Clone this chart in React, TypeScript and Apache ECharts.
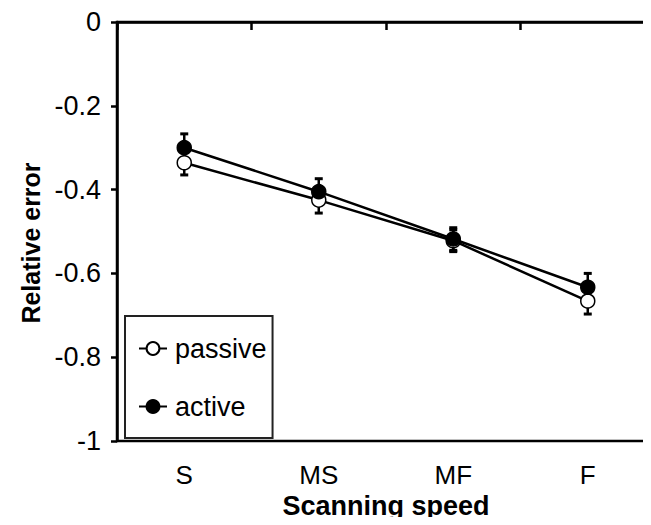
import React, { useEffect, useRef } from "react";
import * as echarts from "echarts";

const categories = ["S", "MS", "MF", "F"];
const passive = [-0.336, -0.425, -0.522, -0.666];
const active = [-0.3, -0.405, -0.518, -0.633];
const passiveErr = [0.029, 0.031, 0.026, 0.031];
const activeErr = [0.033, 0.031, 0.027, 0.033];

const FONT = "'Liberation Sans', Arial, sans-serif";

function errorSeries(name: string, vals: number[], errs: number[]) {
  const data = vals.map((v, i) => [i, v - errs[i], v + errs[i]]);
  return {
    type: "custom",
    name: name + "-err",
    silent: true,
    z: 1,
    data,
    renderItem: (params: any, api: any) => {
      const x = api.value(0);
      const lo = api.coord([x, api.value(1)]);
      const hi = api.coord([x, api.value(2)]);
      const hw = 4;
      const style = { stroke: "#000", lineWidth: 2.5 };
      return {
        type: "group",
        children: [
          { type: "line", shape: { x1: lo[0], y1: lo[1], x2: hi[0], y2: hi[1] }, style },
          { type: "line", shape: { x1: lo[0] - hw, y1: lo[1], x2: lo[0] + hw, y2: lo[1] }, style: { stroke: "#000", lineWidth: 3 } },
          { type: "line", shape: { x1: hi[0] - hw, y1: hi[1], x2: hi[0] + hw, y2: hi[1] }, style: { stroke: "#000", lineWidth: 3 } },
        ],
      };
    },
  };
}

export default function App() {
  const ref = useRef<HTMLDivElement>(null);
  useEffect(() => {
    if (!ref.current) return;
    const chart = echarts.init(ref.current, undefined, { renderer: "svg" });
    chart.setOption({
      animation: false,
      backgroundColor: "#fff",
      textStyle: { fontFamily: FONT },
      grid: {
        left: 117,
        top: 22,
        width: 538,
        height: 419,
        show: true,
        borderColor: "#000",
        borderWidth: 2.5,
        containLabel: false,
        outerBoundsMode: "none",
      },
      legend: {
        orient: "vertical",
        left: 125,
        top: 316,
        padding: [19, 6, 18, 13],
        itemGap: 31,
        itemWidth: 28,
        itemHeight: 16,
        borderColor: "#222",
        borderWidth: 2,
        textStyle: { fontSize: 27, color: "#000", fontFamily: FONT, padding: [0, 0, 0, 3] },
        data: ["passive", "active"],
      },
      xAxis: {
        type: "category",
        data: categories,
        boundaryGap: true,
        name: "Scanning speed",
        nameLocation: "middle",
        nameGap: 51,
        nameTextStyle: { fontSize: 27, fontWeight: "bold", color: "#000", fontFamily: FONT },
        axisLine: { lineStyle: { color: "#000", width: 2.5 } },
        axisTick: { show: true, length: 8, inside: false, alignWithLabel: false, lineStyle: { color: "#000", width: 2.5 } },
        axisLabel: { fontSize: 26, color: "#000", margin: 21, fontFamily: FONT },
        splitLine: { show: false },
      },
      yAxis: {
        type: "value",
        min: -1,
        max: 0,
        interval: 0.2,
        axisLine: { show: true, lineStyle: { color: "#000", width: 2.5 } },
        axisTick: { show: true, length: 6, inside: false, lineStyle: { color: "#000", width: 2.5 } },
        axisLabel: { fontSize: 27, color: "#000", margin: 16, fontFamily: FONT },
        splitLine: { show: false },
      },
      graphic: [
        {
          type: "text",
          x: 31,
          y: 243,
          rotation: Math.PI / 2,
          style: {
            text: "Relative error",
            fontSize: 25,
            fontWeight: "bold",
            fill: "#000",
            fontFamily: FONT,
            align: "center",
            verticalAlign: "middle",
          },
        },
      ],
      series: [
        errorSeries("passive", passive, passiveErr),
        errorSeries("active", active, activeErr),
        {
          type: "line",
          name: "passive",
          data: passive,
          z: 3,
          symbol: "circle",
          symbolSize: 14,
          lineStyle: { color: "#000", width: 2.5 },
          itemStyle: { color: "#fff", borderColor: "#000", borderWidth: 1.5 },
        },
        {
          type: "line",
          name: "active",
          data: active,
          z: 4,
          symbol: "circle",
          symbolSize: 14,
          lineStyle: { color: "#000", width: 2.5 },
          itemStyle: { color: "#000", borderColor: "#000", borderWidth: 1.5 },
        },
      ],
    });
    return () => chart.dispose();
  }, []);
  return <div ref={ref} style={{ width: 651, height: 525, margin: -8 }} />;
}
